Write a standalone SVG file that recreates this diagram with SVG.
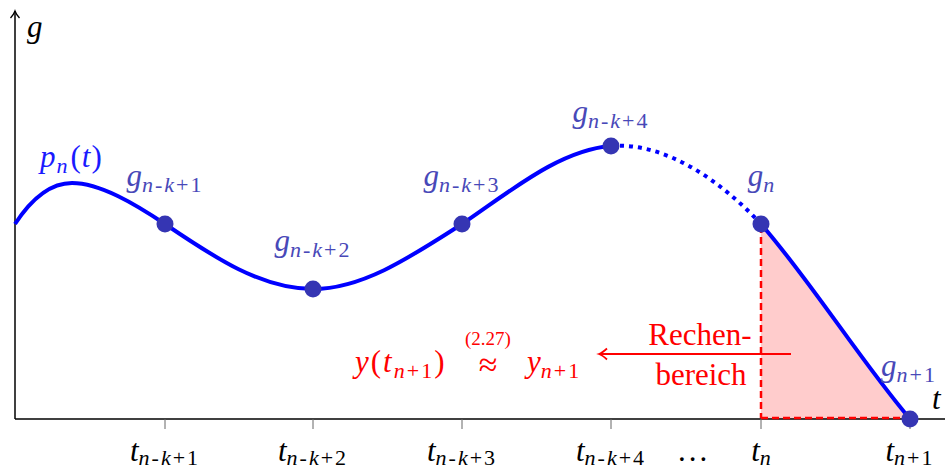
<svg xmlns="http://www.w3.org/2000/svg" width="945" height="471" viewBox="0 0 945 471">
<defs>
<marker id="ahk" markerWidth="12" markerHeight="12" refX="9" refY="6" orient="auto" markerUnits="userSpaceOnUse">
<path d="M2,1.5 Q6,5 9,6 Q6,7 2,10.5" fill="none" stroke="#000" stroke-width="1.3"/>
</marker>
<marker id="ahr" markerWidth="14" markerHeight="14" refX="10" refY="7" orient="auto" markerUnits="userSpaceOnUse">
<path d="M2,1.5 Q7,6 10,7 Q7,8 2,12.5" fill="none" stroke="#ff0000" stroke-width="1.8"/>
</marker>
</defs>

<g id="area">
<path d="M761,224 C810,280 860,360 910,419 L761,419 Z" fill="#ffcccc"/>
</g>

<g id="axes">
<line x1="15" y1="419" x2="945" y2="419" stroke="#000" stroke-width="1.5"/>
<line x1="15" y1="419" x2="15" y2="11" stroke="#000" stroke-width="1.5" marker-end="url(#ahk)"/>
<g stroke="#666" stroke-width="1">
<line x1="165" y1="419" x2="165" y2="429"/>
<line x1="313" y1="419" x2="313" y2="429"/>
<line x1="462" y1="419" x2="462" y2="429"/>
<line x1="611" y1="419" x2="611" y2="429"/>
<line x1="761" y1="419" x2="761" y2="429"/>
<line x1="910" y1="419" x2="910" y2="429"/>
</g>
<text x="27" y="37" font-family="Liberation Serif" font-style="italic" font-size="31" fill="#000">g</text>
<text x="932" y="409" font-family="Liberation Serif" font-style="italic" font-size="31" fill="#000">t</text>
</g>

<g id="connectors">
<g stroke="#ff0000" stroke-width="2.5" stroke-dasharray="7 4" fill="none">
<line x1="761" y1="226" x2="761" y2="418"/>
<line x1="761" y1="418" x2="910" y2="418"/>
</g>
<g fill="none" stroke="#0000ff" stroke-width="4">
<path d="M15,224 C32,198 50,183 72,183 C100,183 135,204 165,224 C215,258 262,289 313,289 C363,289 412,256 462,224 C512,190 560,150 611,146"/>
<path stroke-dasharray="4 5" d="M611,146 C665,142 720,180 761,224"/>
<path d="M761,224 C810,280 860,360 910,419"/>
</g>
<line x1="791" y1="354" x2="599" y2="354" stroke="#ff0000" stroke-width="2" marker-end="url(#ahr)"/>
</g>

<g font-family="Liberation Serif" font-style="italic" font-size="31" fill="#4848b8" text-anchor="middle">
<g id="p1"><circle fill="#3535b3" cx="165" cy="224" r="8.5"/>
<text x="165" y="186">g<tspan font-size="22" dy="6" letter-spacing="2">n<tspan font-style="normal">-</tspan>k<tspan font-style="normal">+1</tspan></tspan></text></g>
<g id="p2"><circle fill="#3535b3" cx="313" cy="289" r="8.5"/>
<text x="313" y="251">g<tspan font-size="22" dy="6" letter-spacing="2">n<tspan font-style="normal">-</tspan>k<tspan font-style="normal">+2</tspan></tspan></text></g>
<g id="p3"><circle fill="#3535b3" cx="462" cy="224" r="8.5"/>
<text x="462" y="186">g<tspan font-size="22" dy="6" letter-spacing="2">n<tspan font-style="normal">-</tspan>k<tspan font-style="normal">+3</tspan></tspan></text></g>
<g id="p4"><circle fill="#3535b3" cx="611" cy="146" r="8.5"/>
<text x="611" y="122">g<tspan font-size="22" dy="6" letter-spacing="2">n<tspan font-style="normal">-</tspan>k<tspan font-style="normal">+4</tspan></tspan></text></g>
<g id="p5"><circle fill="#3535b3" cx="761" cy="224" r="8.5"/>
<text x="761" y="186">g<tspan font-size="22" dy="6">n</tspan></text></g>
<g id="p6"><circle fill="#3535b3" cx="910" cy="419" r="8.5"/>
<text x="909" y="376">g<tspan font-size="22" dy="6" letter-spacing="2">n<tspan font-style="normal">+1</tspan></tspan></text></g>
</g>

<g id="curve-label">
<text x="40" y="167" font-family="Liberation Serif" font-style="italic" font-size="31" fill="#1a1aff" letter-spacing="1">p<tspan font-size="22" dy="6">n</tspan><tspan font-style="normal" dy="-6" dx="2">(</tspan>t<tspan font-style="normal">)</tspan></text>
</g>

<g id="tick-labels" font-family="Liberation Serif" font-style="italic" font-size="31" fill="#000" text-anchor="middle">
<text x="165" y="461">t<tspan font-size="22" dy="4" letter-spacing="2">n<tspan font-style="normal">-</tspan>k<tspan font-style="normal">+1</tspan></tspan></text>
<text x="313" y="461">t<tspan font-size="22" dy="4" letter-spacing="2">n<tspan font-style="normal">-</tspan>k<tspan font-style="normal">+2</tspan></tspan></text>
<text x="462" y="461">t<tspan font-size="22" dy="4" letter-spacing="2">n<tspan font-style="normal">-</tspan>k<tspan font-style="normal">+3</tspan></tspan></text>
<text x="611" y="461">t<tspan font-size="22" dy="4" letter-spacing="2">n<tspan font-style="normal">-</tspan>k<tspan font-style="normal">+4</tspan></tspan></text>
<text x="694" y="461" font-style="normal" letter-spacing="3">...</text>
<text x="761" y="461">t<tspan font-size="22" dy="4">n</tspan></text>
<text x="910" y="461">t<tspan font-size="22" dy="4" letter-spacing="2">n<tspan font-style="normal">+1</tspan></tspan></text>
</g>

<g id="formula" fill="#ff0000" font-family="Liberation Serif">
<text x="355" y="372" font-style="italic" font-size="31" letter-spacing="2">y<tspan font-style="normal">(</tspan>t<tspan font-size="22" dy="6">n<tspan font-style="normal">+1</tspan></tspan><tspan font-style="normal" dy="-6">)</tspan></text>
<text x="488" y="345" text-anchor="middle" font-size="19">(2.27)</text>
<text x="488" y="376" text-anchor="middle" font-size="34">≈</text>
<text x="527" y="372" font-style="italic" font-size="31">y<tspan font-size="22" dy="6" letter-spacing="2">n<tspan font-style="normal">+1</tspan></tspan></text>
<text x="700" y="345" text-anchor="middle" font-size="31">Rechen-</text>
<text x="701" y="385" text-anchor="middle" font-size="31">bereich</text>
</g>
</svg>
